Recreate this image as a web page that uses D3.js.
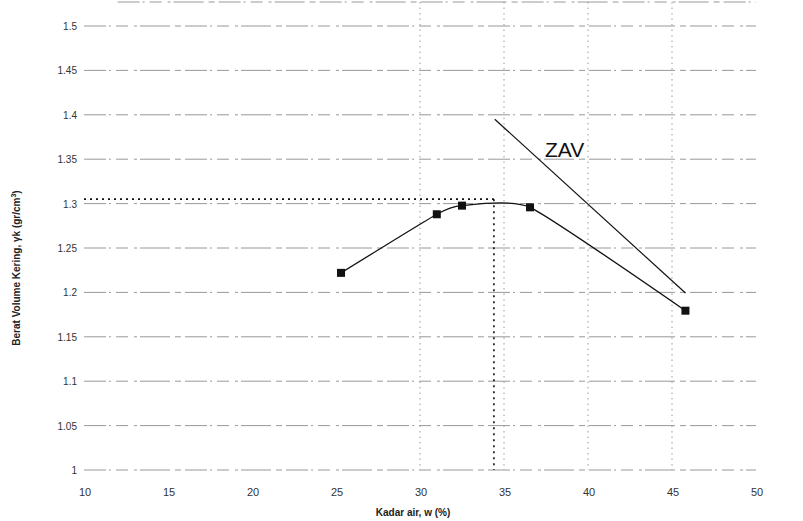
<!DOCTYPE html>
<html>
<head>
<meta charset="utf-8">
<script src="https://cdn.jsdelivr.net/npm/d3@7"></script>
<style>
  body { margin: 0; background: #fff; }
  svg { display: block; font-family: "Liberation Sans", Arial, sans-serif; }
</style>
</head>
<body>
<div id="chart"></div>
<script>
// kadar air (%) and berat volume kering from the compaction test
var kadarAir = [25.3, 31.0, 32.5, 36.55, 45.8];
var beratKering = [1.222, 1.288, 1.2977, 1.2958, 1.1794];

// zero air voids line
var zavAir = [34.45, 45.8];
var zavBerat = [1.395, 1.1993];

// optimum
var wOpt = 34.4;
var gMax = 1.305;

var xTicks = [10, 15, 20, 25, 30, 35, 40, 45, 50];
var yTicks = [1, 1.05, 1.1, 1.15, 1.2, 1.25, 1.3, 1.35, 1.4, 1.45, 1.5];
var xGridVals = [30, 35, 40, 45];

var width = 803, height = 521;

var svg = d3.select("#chart").append("svg")
            .attr("width", width)
            .attr("height", height);

var x = d3.scaleLinear().domain([10, 50]).range([84, 756]);
var y = d3.scaleLinear().domain([1, 1.5]).range([470, 26]);

var fmt = function(d){ return String(d); };

//horizontal grid lines (scanned look, broken dashes)
var gridDash = "22,3,2,5,12,6,3,3,30,5,6,4";

svg.append("g").selectAll("line")
   .data(yTicks)
   .enter()
   .append("line")
   .attr("x1", x(10)).attr("x2", x(50))
   .attr("y1", function(d){ return y(d); })
   .attr("y2", function(d){ return y(d); })
   .style("stroke", "#8c8c8c")
   .style("stroke-width", 0.9)
   .style("stroke-dasharray", gridDash);

//top edge of the plot area
svg.append("line")
   .attr("x1", x(12)).attr("x2", x(50))
   .attr("y1", 2).attr("y2", 2)
   .style("stroke", "#8c8c8c")
   .style("stroke-width", 0.9)
   .style("stroke-dasharray", gridDash);

//vertical grid lines
svg.append("g").selectAll("line")
   .data(xGridVals)
   .enter()
   .append("line")
   .attr("x1", function(d){ return x(d); })
   .attr("x2", function(d){ return x(d); })
   .attr("y1", 2).attr("y2", y(1))
   .style("stroke", "#9a9a9a")
   .style("stroke-width", 1)
   .style("stroke-dasharray", "1.5,4");

//y tick labels
svg.append("g").selectAll("text")
   .data(yTicks)
   .enter()
   .append("text")
   .attr("x", 77)
   .attr("y", function(d){ return y(d) + 4; })
   .attr("text-anchor", "end")
   .style("font-size", "10px")
   .style("fill", "#333")
   .text(fmt);

//x tick labels
svg.append("g").selectAll("text")
   .data(xTicks)
   .enter()
   .append("text")
   .attr("x", function(d){ return x(d) + 1; })
   .attr("y", 496)
   .attr("text-anchor", "middle")
   .style("font-size", "11px")
   .style("fill", "#333")
   .text(fmt);

//axis titles
svg.append("text")
   .attr("x", 413).attr("y", 516)
   .attr("text-anchor", "middle")
   .style("font-size", "10px")
   .style("font-weight", "bold")
   .style("fill", "#222")
   .text("Kadar air, w (%)");

var yTitle = svg.append("text")
   .attr("transform", "translate(20,268) rotate(-90)")
   .attr("text-anchor", "middle")
   .style("font-size", "10px")
   .style("font-weight", "bold")
   .style("fill", "#222");
yTitle.append("tspan").text("Berat Volume Kering, \u03b3k (gr/cm");
yTitle.append("tspan").attr("dy", -4).style("font-size", "7px").text("3");
yTitle.append("tspan").attr("dy", 4).text(")");

//dotted lines to the optimum
svg.append("line")
   .attr("x1", x(10)).attr("x2", x(wOpt))
   .attr("y1", y(gMax)).attr("y2", y(gMax))
   .style("stroke", "#111")
   .style("stroke-width", 1.6)
   .style("stroke-dasharray", "2,4");

svg.append("line")
   .attr("x1", x(wOpt)).attr("x2", x(wOpt))
   .attr("y1", y(gMax)).attr("y2", y(1))
   .style("stroke", "#111")
   .style("stroke-width", 1.6)
   .style("stroke-dasharray", "2,4");

//compaction curve
var pts = kadarAir.map(function(w, i){ return [w, beratKering[i]]; });

var curve = d3.line()
              .x(function(d){ return x(d[0]); })
              .y(function(d){ return y(d[1]); })
              .curve(d3.curveCardinal.tension(0.5));

svg.append("path")
   .datum(pts)
   .attr("d", curve)
   .style("fill", "none")
   .style("stroke", "#111")
   .style("stroke-width", 1.3);

svg.append("g").selectAll("rect")
   .data(pts)
   .enter()
   .append("rect")
   .attr("x", function(d){ return x(d[0]) - 4; })
   .attr("y", function(d){ return y(d[1]) - 4; })
   .attr("width", 8)
   .attr("height", 8)
   .style("fill", "#111");

//ZAV line
var zavPts = zavAir.map(function(w, i){ return [w, zavBerat[i]]; });

svg.append("path")
   .datum(zavPts)
   .attr("d", d3.line()
                .x(function(d){ return x(d[0]); })
                .y(function(d){ return y(d[1]); }))
   .style("fill", "none")
   .style("stroke", "#111")
   .style("stroke-width", 1.2);

svg.append("text")
   .attr("x", 545).attr("y", 157)
   .style("font-size", "21px")
   .style("fill", "#111")
   .text("ZAV");
</script>
</body>
</html>
